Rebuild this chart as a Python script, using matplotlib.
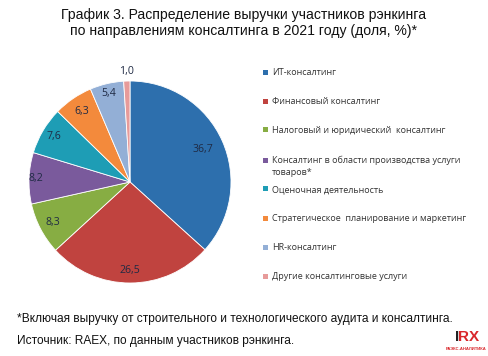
import matplotlib
matplotlib.use("Agg")
import matplotlib.pyplot as plt
from matplotlib.patches import Rectangle
import numpy as np

plt.rcParams['font.family'] = ['Liberation Sans', 'DejaVu Sans']

# данные
categories = ["ИТ-консалтинг",
              "Финансовый консалтинг",
              "Налоговый и юридический  консалтинг",
              "Консалтинг в области производства услуги\nтоваров*",
              "Оценочная деятельность",
              "Стратегическое  планирование и маркетинг",
              "HR-консалтинг",
              "Другие консалтинговые услуги"]
values = [36.7, 26.5, 8.3, 8.2, 7.6, 6.3, 5.4, 1.0]
value_labels = ["36,7", "26,5", "8,3", "8,2", "7,6", "6,3", "5,4", "1,0"]
colors = ["#2D6FAD", "#C0433F", "#87AD43", "#7A5A9C", "#1E9DB5", "#F38A3C", "#93AFD6", "#E79B9A"]
label_dist = [0.79, 0.88, 0.86, 0.93, 0.88, 0.85, 0.90, 1.09]

W, H = 489, 356
fig = plt.figure(figsize=(W / 100, H / 100), dpi=100)
fig.patch.set_facecolor("white")

# пирог: центр (130,182), радиус 101 px
cx, cy, r = 130, 182, 101
ax = fig.add_axes([(cx - r) / W, (H - cy - r) / H, 2 * r / W, 2 * r / H])
wedges, texts = ax.pie(values, colors=colors, startangle=90, counterclock=False,
                       labels=value_labels, labeldistance=0.8,
                       wedgeprops=dict(edgecolor="white", linewidth=0.6),
                       textprops=dict(fontsize=7.6, color="#1F2A44",
                                      family=['Open Sans', 'DejaVu Sans']))
for w, t, d in zip(wedges, texts, label_dist):
    ang = np.deg2rad((w.theta1 + w.theta2) / 2)
    t.set_position((d * np.cos(ang), d * np.sin(ang)))
    t.set_ha("center")
    t.set_va("center")
ax.set_xlim(-1, 1)
ax.set_ylim(-1, 1)
ax.set_aspect("equal")
ax.axis("off")

# заголовок
fig.text(244 / W, 1 - 15 / H, "График 3. Распределение выручки участников рэнкинга",
         ha="center", va="center", fontsize=10.1, color="#111111")
fig.text(244 / W, 1 - 31 / H, "по направлениям консалтинга в 2021 году (доля, %)*",
         ha="center", va="center", fontsize=10.1, color="#111111")

# легенда
leg_y = [72, 101, 130, 160, 189, 218, 247, 276]
for c, lab, y in zip(colors, categories, leg_y):
    fig.patches.append(Rectangle((263 / W, 1 - (y + 2.5) / H), 5 / W, 5 / H,
                                 transform=fig.transFigure, facecolor=c, edgecolor="none"))
    if "\n" in lab:
        fig.text(272 / W, 1 - (y - 4.5) / H, lab, ha="left", va="top",
                 fontsize=6.5, color="#333333", linespacing=1.5,
                 family=['Open Sans', 'DejaVu Sans'])
    else:
        fig.text(272 / W, 1 - (y + 0.5) / H, lab, ha="left", va="center",
                 fontsize=6.5, color="#333333",
                 family=['Open Sans', 'DejaVu Sans'])

# сноски
fig.text(17 / W, 1 - 319 / H, "*Включая выручку от строительного и технологического аудита и консалтинга.",
         ha="left", va="center", fontsize=8.6, color="#111111")
fig.text(17 / W, 1 - 341 / H, "Источник: RAEX, по данным участников рэнкинга.",
         ha="left", va="center", fontsize=8.6, color="#111111")

# логотип
fig.text(457 / W, 1 - 337 / H, "I", ha="center", va="center", fontsize=11, weight="bold",
         color="#222222")
fig.text(469 / W, 1 - 337 / H, "RX", ha="center", va="center", fontsize=11, weight="bold",
         color="#D9262A")
fig.text(466 / W, 1 - 349 / H, "РАЭКС-АНАЛИТИКА", ha="center", va="center", fontsize=3,
         color="#D9262A", weight="bold")

fig.savefig("out.png", dpi=100)
